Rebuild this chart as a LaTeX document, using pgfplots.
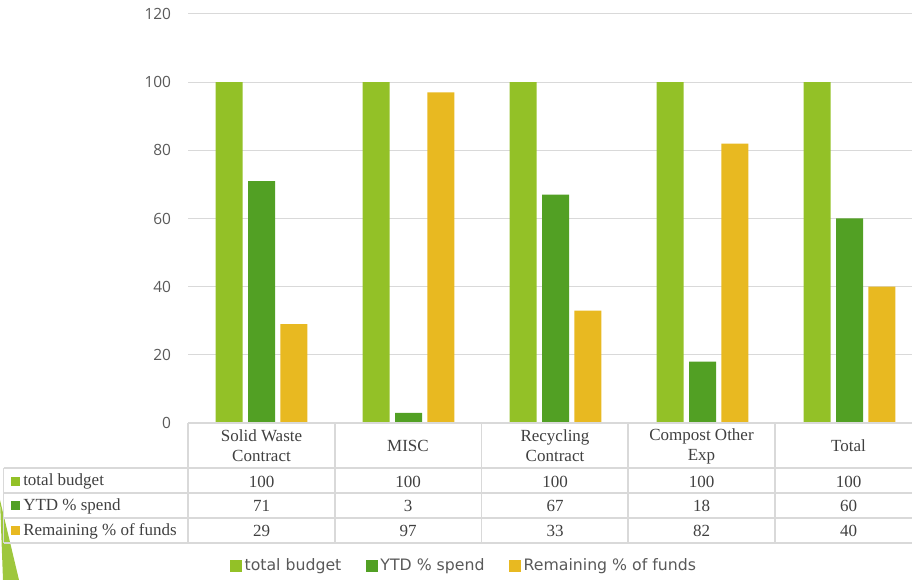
\documentclass[border=0pt]{standalone}
\usepackage{fontspec}
\setmainfont{Liberation Serif}
\newfontfamily\legfont{DejaVu Sans}
\newfontfamily\tickfont{Open Sans}
\usepackage{pgfplots}
\pgfplotsset{compat=1.18}
\definecolor{cA}{HTML}{93C127}
\definecolor{cB}{HTML}{52A024}
\definecolor{cC}{HTML}{E8B921}
\definecolor{gridc}{HTML}{D9D9D9}
\definecolor{txt}{HTML}{595959}
\definecolor{ttxt}{HTML}{404040}
\pgfplotsset{/pgfplots/ybar legend/.style={/pgfplots/legend image code/.code={\fill[##1] (0pt,-4.3pt) rectangle (8.6pt,4.3pt);}}}
\begin{document}
\begin{tikzpicture}[x=0.75pt,y=0.75pt]
% slide decoration
\fill[cA!90!white] (0,80) -- (19,0) -- (3,0) -- cycle;
\begin{axis}[
 at={(141pt,117.75pt)}, anchor=south west,
 scale only axis, width=551.25pt, height=306.75pt,
 xmin=-0.5, xmax=4.5, ymin=0, ymax=120,
 ytick={0,20,...,120}, xtick=\empty,
 /pgf/number format/assume math mode=true,
 ymajorgrids, grid style={gridc, line width=0.75pt},
 axis line style={draw=none}, major tick length=0pt,
 yticklabel style={font=\tickfont\fontsize{11.6}{12}\selectfont, text=txt, anchor=east, inner sep=0pt, xshift=-12.5pt},
 ybar=4.1pt, bar width=20.25pt,
 clip=false,
 legend columns=3,
 legend style={at={(0.0571,-0.3496)}, anchor=west, draw=none, fill=none, inner sep=0pt,
   nodes={inner sep=0pt, font=\legfont\fontsize{11.8}{13}\selectfont, text=txt},
   /tikz/every odd column/.append style={column sep=2.2pt},
   /tikz/every even column/.append style={column sep=18.5pt}},
]
\addplot[fill=cA, draw=none] coordinates {(0,100) (1,100) (2,100) (3,100) (4,100)};
\addplot[fill=cB, draw=none] coordinates {(0,71) (1,3) (2,67) (3,18) (4,60)};
\addplot[fill=cC, draw=none] coordinates {(0,29) (1,97) (2,33) (3,82) (4,40)};
\legend{total budget, YTD \% spend, Remaining \% of funds}
\end{axis}
% data table
\begin{scope}[gridc, line width=0.9pt]
\draw (188,157) -- (923,157);
\foreach \y in {112,87,62,37} \draw (3.5,\y) -- (923,\y);
\draw (3.5,112) -- (3.5,37);
\foreach \x in {188,335,481.5,628,775} \draw (\x,157) -- (\x,37);
\end{scope}
\begin{scope}[every node/.style={font=\fontsize{12.75}{15}\selectfont, text=ttxt, inner sep=0pt, align=center}]
\node at (261.5,134) {Solid Waste\\Contract};
\node at (408,134) {MISC};
\node at (555,134) {Recycling\\Contract};
\node at (701.5,134) {Compost Other\\Exp};
\node at (848.5,134) {Total};
\foreach \x/\a/\b/\c in {261.5/100/71/29, 408/100/3/97, 555/100/67/33, 701.5/100/18/82, 848.5/100/60/40} {
  \node at (\x,98.5) {\a};
  \node at (\x,74) {\b};
  \node at (\x,49) {\c};
}
\fill[cA] (10.5,94) rectangle (19.5,103);
\fill[cB] (10.5,69.5) rectangle (19.5,78.5);
\fill[cC] (10.5,44.5) rectangle (19.5,53.5);
\node[anchor=west] at (23,98.5) {total budget};
\node[anchor=west] at (23,74) {YTD \% spend};
\node[anchor=west] at (23,49) {Remaining \% of funds};
\end{scope}
\pgfresetboundingbox
\path[use as bounding box] (0,0) rectangle (912,580);
\end{tikzpicture}
\end{document}
